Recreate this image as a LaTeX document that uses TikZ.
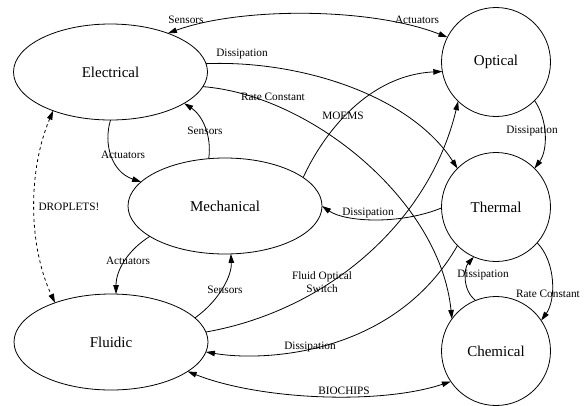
\documentclass[tikz,border=0pt]{standalone}
\usepackage{fontspec}
\setmainfont{Liberation Serif}
\usetikzlibrary{shapes.geometric,arrows.meta}
\tikzset{
  ell/.style={draw, ellipse, line width=0.8pt, inner sep=0pt, outer sep=0pt,
    minimum width=194pt, minimum height=96pt, font=\fontsize{15}{18}\selectfont},
  circ/.style={draw, circle, line width=0.8pt, inner sep=0pt, outer sep=0pt,
    minimum size=109pt, font=\fontsize{15}{18}\selectfont},
  lbl/.style={inner sep=0pt, font=\fontsize{11.3}{13}\selectfont, align=center},
  edge/.style={line width=0.8pt, -{Triangle[length=9pt,width=5.5pt]}},
  bedge/.style={line width=0.8pt, {Triangle[length=9pt,width=5.5pt]}-{Triangle[length=9pt,width=5.5pt]}}
}
\begin{document}
\begin{tikzpicture}[x=1pt,y=-1pt]
\useasboundingbox (0,0) rectangle (585,405);
% nodes
\node[ell] (el) at (110.5,72) {Electrical};
\node[ell] (me) at (225,206) {Mechanical};
\node[ell] (fl) at (111,342) {Fluidic};
\node[circ] (op) at (496,62) {Optical};
\node[circ] (th) at (496,207) {Thermal};
\node[circ] (ch) at (496,351) {Chemical};
% edges
\draw[bedge] (el.34.1) .. controls (240,7) and (370,7) .. (op.153.9);
\draw[edge] (el.5.9) .. controls (300,60) and (410,95) .. (th.135.7);
\draw[edge] (el.-9.1) .. controls (310,95) and (440,200) .. (ch.144.8);
\draw[edge] (el.-90) .. controls (103,145) and (112,172) .. (me.164.6);
\draw[edge] (me.109.5) .. controls (212,135) and (202,115) .. (el.-23.8);
\draw[edge] (me.20.4) .. controls (325,130) and (370,75) .. (op.190.3);
\draw[edge] (th.181) .. controls (400,225) and (345,222) .. (me.0);
\draw[bedge, dashed] (el.214.4) .. controls (28,170) and (28,245) .. (fl.145.9);
\draw[edge] (me.202) .. controls (128,250) and (116,270) .. (fl.84);
\draw[edge] (fl.16.6) .. controls (220,300) and (232,275) .. (me.-83);
\draw[edge] (fl.6) .. controls (330,310) and (430,220) .. (op.226.4);
\draw[edge] (th.225.7) .. controls (395,355) and (265,362) .. (fl.-6.5);
\draw[bedge] (fl.-21.3) .. controls (260,400) and (380,405) .. (ch.214.9);
\draw[edge] (op.-45.7) .. controls (548,120) and (548,150) .. (th.45);
\draw[edge] (ch.112.6) .. controls (462,290) and (464,268) .. (th.246);
\draw[edge] (th.-41.5) .. controls (556,262) and (556,300) .. (ch.34.5);
% labels
\node[lbl] (l1) at (186,20) {Sensors};
\node[lbl] (l2) at (417,20) {Actuators};
\node[lbl] (l3) at (242,54) {Dissipation};
\node[lbl] (l4) at (273,97) {Rate Constant};
\node[lbl] (l5) at (123,155) {Actuators};
\node[lbl] (l6) at (205,131) {Sensors};
\node[lbl] (l7) at (343,116) {MOEMS};
\node[lbl] (l8) at (368,213) {Dissipation};
\node[lbl] (l9) at (69,207) {DROPLETS!};
\node[lbl] (l10) at (128,261) {Actuators};
\node[lbl] (l11) at (225,290) {Sensors};
\node[lbl] (l12) at (322,282) {Fluid Optical\\Switch};
\node[lbl] (l13) at (310,347) {Dissipation};
\node[lbl] (l14) at (344,391) {BIOCHIPS};
\node[lbl] (l15) at (532,131) {Dissipation};
\node[lbl] (l16) at (483,275) {Dissipation};
\node[lbl] (l17) at (548,294) {Rate Constant};
\end{tikzpicture}
\end{document}
